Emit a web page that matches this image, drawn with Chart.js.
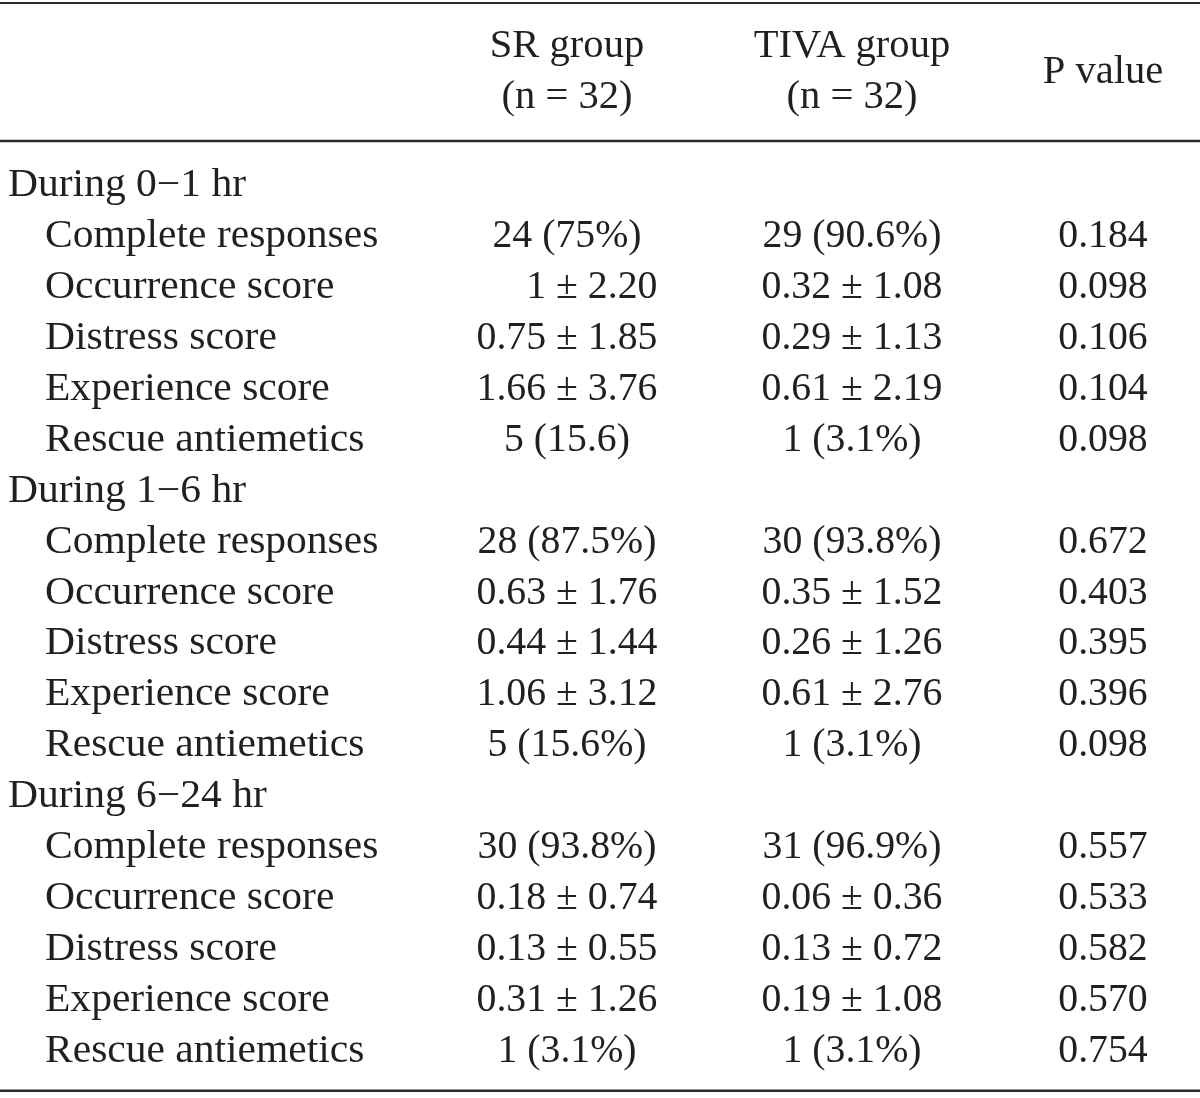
<!DOCTYPE html>
<html>
<head>
<meta charset="utf-8">
<script src="https://cdn.jsdelivr.net/npm/chart.js@4/dist/chart.umd.min.js"></script>
<style>
  html, body { margin: 0; padding: 0; background: #ffffff; }
  #wrap { width: 1200px; height: 1098px; }
</style>
</head>
<body>
<div id="wrap"><canvas id="c" width="1200" height="1098"></canvas></div>
<script>
// ---- data ----
const columnHeaders = [['SR group', '(n = 32)'], ['TIVA group', '(n = 32)'], ['P value']];
const groups = ['During 0\u22121 hr', 'During 1\u22126 hr', 'During 6\u221224 hr'];
const measures = ['Complete responses', 'Occurrence score', 'Distress score', 'Experience score', 'Rescue antiemetics'];
const srValues = [
  '24 (75%)', '1 \u00b1 2.20', '0.75 \u00b1 1.85', '1.66 \u00b1 3.76', '5 (15.6)',
  '28 (87.5%)', '0.63 \u00b1 1.76', '0.44 \u00b1 1.44', '1.06 \u00b1 3.12', '5 (15.6%)',
  '30 (93.8%)', '0.18 \u00b1 0.74', '0.13 \u00b1 0.55', '0.31 \u00b1 1.26', '1 (3.1%)'
];
const tivaValues = [
  '29 (90.6%)', '0.32 \u00b1 1.08', '0.29 \u00b1 1.13', '0.61 \u00b1 2.19', '1 (3.1%)',
  '30 (93.8%)', '0.35 \u00b1 1.52', '0.26 \u00b1 1.26', '0.61 \u00b1 2.76', '1 (3.1%)',
  '31 (96.9%)', '0.06 \u00b1 0.36', '0.13 \u00b1 0.72', '0.19 \u00b1 1.08', '1 (3.1%)'
];
const pValues = [
  '0.184', '0.098', '0.106', '0.104', '0.098',
  '0.672', '0.403', '0.395', '0.396', '0.098',
  '0.557', '0.533', '0.582', '0.570', '0.754'
];

// ---- layout (scale units) ----
const COL = { group: 8, item: 45, sr: 567, tiva: 852, p: 1103 };
const HEAD = { line1: -2.729, line2: -1.728, single: -2.218 };
const RULES = [{ y: -3.553, w: 2 }, { y: -0.845, w: 2.5 }, { y: 17.8, w: 2.5 }];
const FONT = '39px "Liberation Serif", "Times New Roman", serif';
const INK = '#231f20';
const BASE_OFF = 12;       // px from row centre to text baseline
const STRETCH = { label: 1.065, header: 1.04, value: 1.02 };

// Build table rows: group heading then its measures
const rows = [];
groups.forEach((g, gi) => {
  rows.push({ label: g, heading: true });
  measures.forEach((m, mi) => {
    const k = gi * measures.length + mi;
    rows.push({ label: m, heading: false, sr: srValues[k], tiva: tivaValues[k], p: pValues[k] });
  });
});

const ruleDatasets = RULES.map(r => ({
  type: 'line',
  data: [{ x: 0, y: r.y }, { x: 1200, y: r.y }],
  borderColor: '#2b2b2b',
  borderWidth: r.w,
  pointRadius: 0,
  fill: false,
  clip: false
}));

const cellPoints = rows.map((r, i) => ({ x: COL.item, y: i }));

function drawText(ctx, t, px, py, align, s) {
  ctx.save();
  ctx.translate(px, py);
  ctx.scale(s, 1);
  ctx.textAlign = align;
  ctx.fillText(t, 0, 0);
  ctx.restore();
}

const tableText = {
  id: 'tableText',
  afterDatasetsDraw(chart) {
    const { ctx, scales: { x, y } } = chart;
    ctx.save();
    ctx.font = FONT;
    ctx.fillStyle = INK;
    ctx.textBaseline = 'alphabetic';
    // headers
    const hcols = [COL.sr, COL.tiva, COL.p];
    columnHeaders.forEach((lines, ci) => {
      const px = x.getPixelForValue(hcols[ci]);
      if (lines.length === 2) {
        drawText(ctx, lines[0], px, y.getPixelForValue(HEAD.line1) + BASE_OFF, 'center', STRETCH.header);
        drawText(ctx, lines[1], px, y.getPixelForValue(HEAD.line2) + BASE_OFF, 'center', STRETCH.header);
      } else {
        drawText(ctx, lines[0], px, y.getPixelForValue(HEAD.single) + BASE_OFF, 'center', STRETCH.header);
      }
    });
    // body
    const refW = ctx.measureText('0.75 \u00b1 1.85').width * STRETCH.value;
    rows.forEach((r, i) => {
      const py = y.getPixelForValue(i) + BASE_OFF;
      drawText(ctx, r.label, x.getPixelForValue(r.heading ? COL.group : COL.item), py, 'left', STRETCH.label);
      if (r.heading) return;
      [[r.sr, COL.sr], [r.tiva, COL.tiva], [r.p, COL.p]].forEach(([t, c]) => {
        const px = x.getPixelForValue(c);
        if (t.indexOf('\u00b1') >= 0) {
          drawText(ctx, t, px + refW / 2, py, 'right', STRETCH.value);
        } else {
          drawText(ctx, t, px, py, 'center', STRETCH.value);
        }
      });
    });
    ctx.restore();
  }
};

new Chart(document.getElementById('c'), {
  type: 'scatter',
  data: {
    datasets: [
      ...ruleDatasets,
      { type: 'scatter', data: cellPoints, pointRadius: 0, showLine: false }
    ]
  },
  options: {
    responsive: false,
    animation: false,
    events: [],
    layout: { padding: 0 },
    plugins: { legend: { display: false }, tooltip: { enabled: false } },
    scales: {
      x: { type: 'linear', min: 0, max: 1200, display: false },
      y: { type: 'linear', min: -3.612, max: 17.943, reverse: true, display: false }
    }
  },
  plugins: [tableText]
});
</script>
</body>
</html>
